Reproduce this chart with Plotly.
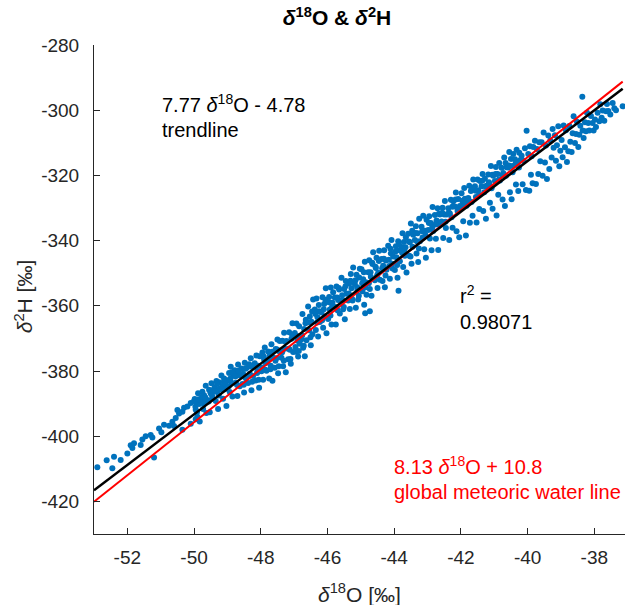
import plotly.graph_objects as go

# ---- data ----
D18O = [
 -52.9,-52.62,-52.4,-52.45,-52.2,-52.0,-51.9,-51.85,-51.8,-51.6,-51.55,-51.3,-51.2,-51.25,-51.05,-50.98,
 -50.9,-50.75,-50.65,-50.55,-50.45,-50.5,-50.35,-50.3,-50.2,-50.1,-50.35,-50.1,-50.0,-49.95,-50.6,-51.45,
 -49.98,-49.95,-49.93,-49.90,-49.88,-49.85,-49.83,
 -49.78,-49.75,-49.73,-49.70,-49.68,-49.65,-49.63,
 -49.58,-49.55,-49.53,-49.50,-49.48,-49.45,-49.43,
 -49.38,-49.35,-49.33,-49.30,-49.28,-49.25,-49.23,
 -49.18,-49.15,-49.13,-49.10,-49.08,-49.05,-49.03,
 -48.98,-48.95,-48.93,-48.90,-48.88,-48.85,-48.83,
 -48.78,-48.75,-48.73,-48.70,-48.68,-48.65,-48.63,
 -48.58,-48.55,-48.53,-48.50,-48.48,-48.45,-48.43,
 -48.38,-48.35,-48.33,-48.30,-48.28,-48.25,-48.23,
 -48.18,-48.15,-48.13,-48.10,-48.08,-48.05,-48.03,
 -47.98,-47.95,-47.93,-47.90,-47.88,-47.85,-47.83,
 -47.78,-47.75,-47.73,-47.70,-47.68,-47.65,-47.63,
 -47.58,-47.55,-47.53,-47.50,-47.48,-47.45,-47.43,
 -47.38,-47.35,-47.33,-47.30,-47.28,-47.25,-47.23,
 -47.18,-47.15,-47.13,-47.10,-47.08,-47.05,-47.03,
 -46.98,-46.95,-46.93,-46.90,-46.88,-46.85,-46.83,
 -46.78,-46.75,-46.73,-46.70,-46.68,-46.65,-46.63,
 -46.58,-46.55,-46.53,-46.50,-46.48,-46.45,-46.43,
 -46.38,-46.35,-46.33,-46.30,-46.28,-46.25,-46.23,
 -46.18,-46.15,-46.13,-46.10,-46.08,-46.05,-46.03,
 -45.98,-45.95,-45.93,-45.90,-45.88,-45.85,-45.83,
 -45.78,-45.75,-45.73,-45.70,-45.68,-45.65,-45.63,
 -45.58,-45.55,-45.53,-45.50,-45.48,-45.45,-45.43,
 -45.38,-45.35,-45.33,-45.30,-45.28,-45.25,-45.23,
 -45.18,-45.15,-45.13,-45.10,-45.08,-45.05,-45.03,
 -44.98,-44.95,-44.93,-44.90,-44.88,-44.85,-44.83,-44.87,-44.73,
 -44.78,-44.75,-44.73,-44.70,-44.68,-44.65,-44.63,
 -44.58,-44.55,-44.53,-44.50,-44.48,-44.45,-44.43,
 -44.38,-44.35,-44.33,-44.30,-44.28,-44.25,-44.23,
 -44.18,-44.15,-44.13,-44.10,-44.08,-44.05,-44.03,
 -43.98,-43.95,-43.93,-43.90,-43.88,-43.85,-43.83,-43.87,
 -43.78,-43.75,-43.73,-43.70,-43.68,-43.65,-43.63,
 -43.58,-43.55,-43.53,-43.50,-43.48,-43.45,-43.43,
 -43.38,-43.35,-43.33,-43.30,-43.28,-43.25,-43.23,
 -43.18,-43.15,-43.13,-43.10,-43.08,-43.05,-43.03,
 -42.98,-42.95,-42.93,-42.90,-42.88,-42.85,-42.83,
 -42.78,-42.75,-42.73,-42.70,-42.68,-42.65,-42.63,
 -42.58,-42.55,-42.53,-42.50,-42.48,-42.45,-42.43,
 -42.38,-42.35,-42.33,-42.30,-42.28,-42.25,-42.23,
 -42.18,-42.15,-42.13,-42.10,-42.08,-42.05,-42.03,
 -41.98,-41.95,-41.93,-41.90,-41.88,-41.85,-41.83,
 -41.78,-41.75,-41.73,-41.70,-41.68,-41.65,-41.63,
 -41.58,-41.55,-41.53,-41.50,-41.48,-41.45,-41.43,
 -41.38,-41.35,-41.33,-41.30,-41.28,-41.25,-41.23,
 -41.18,-41.15,-41.13,-41.10,-41.08,-41.05,-41.03,
 -40.98,-40.95,-40.93,-40.90,-40.88,-40.85,-40.83,
 -40.78,-40.75,-40.73,-40.70,-40.68,-40.65,-40.63,
 -40.58,-40.55,-40.53,-40.50,-40.48,-40.45,-40.43,
 -40.38,-40.35,-40.33,-40.30,-40.28,-40.25,-40.23,
 -40.18,-40.15,-40.12,-40.08,-40.05,-40.03,
 -39.98,-39.95,-39.93,-39.90,-39.88,-39.85,-39.83,
 -39.78,-39.75,-39.72,-39.68,-39.65,-39.62,
 -39.58,-39.55,-39.52,-39.48,-39.45,-39.42,
 -39.38,-39.35,-39.32,-39.28,-39.25,-39.22,
 -39.18,-39.15,-39.12,-39.08,-39.05,-39.02,
 -38.98,-38.95,-38.92,-38.88,-38.85,-38.82,
 -38.78,-38.75,-38.72,-38.68,-38.65,-38.62,
 -38.58,-38.55,-38.52,-38.48,-38.45,-38.42,
 -38.36,-38.35,-38.32,-38.28,-38.25,-38.22,
 -38.18,-38.15,-38.10,-38.05,-38.02,
 -37.98,-37.95,-37.90,-37.85,-37.82,
 -37.78,-37.75,-37.70,-37.65,-37.62,
 -37.58,-37.52,-37.45,-37.40,
 -37.35,-37.15,
]

D2H = [
 -409.5,-407.4,-406.3,-409.8,-407.3,-405.3,-402.8,-403.6,-402.2,-402.7,-401.0,-399.6,-406.5,-400.4,-397.6,-398.8,
 -396.5,-396.8,-395.6,-394.4,-393.0,-392.0,-392.5,-391.3,-390.9,-389.8,-398.0,-396.2,-389.2,-394.8,-396.9,-400.0,
 -388.62,-391.89,-389.74,-394.00,-386.85,-390.11,-395.46,
 -389.07,-386.34,-391.69,-387.45,-389.30,-384.56,-392.91,
 -389.01,-385.78,-392.63,-386.89,-383.74,-388.50,-385.85,
 -384.96,-389.23,-383.08,-386.34,-391.69,-383.45,-385.30,
 -381.40,-384.67,-388.52,-382.28,-385.63,-382.89,-390.74,
 -382.85,-380.62,-386.47,-378.73,-383.58,-387.84,-381.19,
 -379.80,-383.57,-380.92,-387.68,-378.03,-381.29,-384.64,
 -379.24,-384.01,-380.86,-386.62,-377.47,-382.23,-379.08,
 -383.69,-377.96,-380.81,-376.07,-385.92,-378.68,-381.53,
 -377.63,-382.90,-375.25,-380.01,-378.36,-385.12,-375.47,
 -380.08,-374.35,-382.70,-376.46,-372.81,-377.57,-379.92,
 -374.03,-382.30,-375.15,-378.41,-371.76,-383.02,-375.87,
 -378.97,-373.24,-376.09,-370.35,-380.70,-373.96,-370.81,
 -375.92,-370.69,-378.54,-368.30,-373.15,-380.41,-370.76,
 -376.36,-368.13,-373.48,-377.74,-370.09,-365.35,-374.20,
 -368.31,-374.08,-365.43,-370.69,-375.54,-366.30,-371.65,
 -370.26,-362.53,-372.88,-367.14,-375.49,-364.25,-370.60,
 -360.20,-367.47,-363.32,-372.08,-364.93,-368.69,-358.04,
 -361.15,-367.42,-357.77,-363.53,-369.38,-361.64,-364.99,
 -362.09,-357.36,-366.71,-359.47,-363.32,-354.58,-368.43,
 -364.04,-357.31,-361.16,-354.42,-365.77,-359.03,-355.88,
 -357.49,-365.76,-354.11,-361.37,-358.22,-354.98,-362.33,
 -351.43,-358.20,-361.05,-354.81,-364.16,-352.42,-356.27,
 -358.38,-353.15,-361.00,-350.26,-354.61,-358.37,-348.22,
 -353.32,-360.59,-350.44,-355.20,-358.05,-351.31,-348.66,
 -348.77,-355.54,-351.89,-359.65,-346.50,-352.76,-356.61,-362.3,-361.7,
 -349.72,-345.99,-354.84,-351.10,-356.95,-347.21,-343.56,
 -352.16,-348.43,-345.28,-354.54,-349.89,-343.15,-352.00,
 -345.61,-352.38,-347.73,-342.99,-354.34,-346.10,-348.95,
 -341.55,-347.82,-351.67,-343.93,-339.78,-348.54,-344.89,
 -349.00,-341.77,-345.12,-351.38,-340.23,-342.99,-346.34,-355.4,
 -341.95,-337.72,-348.07,-342.83,-344.68,-338.94,-349.79,
 -337.89,-344.66,-340.51,-334.77,-347.12,-341.88,-338.23,
 -339.84,-335.61,-343.96,-337.72,-346.57,-333.33,-340.18,
 -335.78,-339.05,-332.40,-342.66,-337.01,-345.27,-333.62,
 -336.73,-332.50,-339.35,-334.61,-342.96,-329.72,-337.07,
 -332.18,-339.45,-333.80,-330.06,-342.91,-335.17,-332.02,
 -334.12,-329.89,-339.24,-332.00,-327.85,-336.11,-331.96,
 -330.07,-339.84,-331.69,-327.45,-332.80,-336.06,-327.91,
 -329.51,-325.28,-337.13,-330.89,-327.24,-339.00,-329.35,
 -325.46,-329.23,-334.08,-323.84,-327.19,-338.45,-329.30,
 -326.91,-323.18,-334.53,-324.79,-328.14,-332.40,-321.25,
 -323.35,-326.62,-334.47,-321.23,-324.58,-330.34,-321.69,
 -323.30,-319.57,-330.92,-325.18,-321.03,-333.29,-323.14,
 -319.74,-322.51,-328.36,-317.12,-323.97,-330.23,-320.08,
 -321.69,-317.46,-332.31,-319.57,-325.92,-316.18,-321.53,
 -317.64,-327.41,-319.26,-314.52,-329.37,-320.13,-317.48,
 -317.58,-312.85,-325.20,-314.96,-327.31,-319.07,-313.42,
 -315.03,-322.80,-312.15,-316.91,-324.76,-313.02,-315.37,
 -313.97,-322.74,-315.51,-311.70,-324.46,-306.31,
 -313.42,-324.69,-311.04,-319.80,-314.15,-322.41,-311.26,
 -309.37,-322.64,-311.91,-319.60,-309.86,-315.63,
 -309.81,-320.08,-306.85,-316.04,-310.80,-321.07,
 -307.76,-318.03,-309.30,-314.49,-305.75,-311.52,
 -307.70,-315.47,-310.74,-304.93,-317.19,-312.46,
 -309.15,-314.42,-304.69,-311.38,-306.14,-315.91,
 -312.60,-304.87,-309.64,-312.83,-307.09,-301.86,
 -310.04,-307.31,-303.58,-311.27,-307.53,-304.80,
 -295.84,-306.26,-308.53,-303.72,-306.48,-300.75,
 -303.93,-306.20,-301.81,-303.92,-306.19,
 -302.88,-305.15,-300.76,-303.37,-298.14,
 -302.33,-300.10,-303.21,-300.32,-298.09,
 -300.27,-301.31,-297.76,-299.38,
 -300.0,-298.8,
]

# extra samples from the densest core of the cloud
D18O_CORE = [
 -49.96,-49.91,-49.86, -49.76,-49.71,-49.66, -49.56,-49.51,-49.46, -49.36,-49.31,-49.26,
 -49.16,-49.11,-49.06, -48.96,-48.91,-48.86, -48.76,-48.71,-48.66, -48.56,-48.51,-48.46,
 -48.36,-48.31,-48.26, -48.16,-48.11,-48.06, -47.96,-47.91,-47.86, -47.76,-47.71,-47.66,
 -47.56,-47.51,-47.46, -47.36,-47.31,-47.26, -47.16,-47.11,-47.06, -46.96,-46.91,-46.86,
 -46.76,-46.71,-46.66, -46.56,-46.51,-46.46, -46.36,-46.31,-46.26, -46.16,-46.11,-46.06,
 -45.96,-45.91,-45.86, -45.76,-45.71,-45.66, -45.56,-45.51,-45.46, -45.36,-45.31,-45.26,
 -45.16,-45.11,-45.06, -44.96,-44.91,-44.86, -44.76,-44.71,-44.66, -44.56,-44.51,-44.46,
 -44.36,-44.31,-44.26, -44.16,-44.11,-44.06, -43.96,-43.91,-43.86, -43.76,-43.71,-43.66,
 -43.56,-43.51,-43.46, -43.36,-43.31,-43.26,
 -43.16,-43.06, -42.96,-42.86, -42.76,-42.66, -42.56,-42.46, -42.36,-42.26, -42.16,-42.06,
 -41.96,-41.86, -41.76,-41.66, -41.56,-41.46, -41.36,-41.26, -41.16,-41.06, -40.96,-40.86,
 -40.76,-40.66, -40.56,-40.46, -40.36,-40.26,
]
D2H_CORE = [
 -390.97,-392.58,-388.69, -387.92,-390.03,-388.14, -389.36,-386.47,-387.58, -386.31,-383.92,-387.53,
 -385.75,-383.36,-383.97, -384.70,-382.31,-380.42, -381.65,-384.26,-379.87, -381.59,-384.20,-379.31,
 -381.54,-378.65,-383.26, -378.48,-380.59,-382.70, -378.93,-375.54,-379.65, -376.38,-379.49,-374.10,
 -376.82,-373.43,-378.54, -374.27,-376.88,-370.99, -373.21,-376.32,-368.93, -372.66,-369.27,-373.88,
 -369.11,-372.22,-365.33, -365.05,-369.66,-361.77, -362.50,-365.11,-359.72, -364.44,-361.05,-358.16,
 -358.89,-362.99,-360.11, -360.34,-357.45,-354.56, -356.78,-360.39,-354.00, -356.23,-352.34,-357.95,
 -352.17,-354.28,-356.89, -353.12,-349.73,-354.34, -353.07,-349.68,-346.79, -348.01,-350.62,-346.23,
 -348.46,-345.57,-350.68, -345.90,-342.51,-347.12, -343.35,-347.46,-341.07, -343.80,-340.41,-342.02,
 -340.24,-344.85,-336.96, -337.69,-340.30,-342.41,
 -337.13,-338.35, -334.58,-335.80, -335.03,-331.75, -331.47,-334.19, -331.42,-329.64, -327.36,-330.08,
 -327.81,-328.03, -327.76,-323.98, -324.70,-325.92, -321.65,-323.37, -322.09,-319.81, -319.54,-321.26,
 -319.99,-316.21, -316.93,-317.15, -316.38,-317.60,
]

LINE_X = [-53.0, -37.15]
TREND_Y = [-416.59, -293.44]   # 7.77 d18O - 4.78
GMWL_Y = [-420.09, -291.23]    # 8.13 d18O + 10.8

X_TICKS = [-52, -50, -48, -46, -44, -42, -40, -38]
Y_TICKS = [-420, -400, -380, -360, -340, -320, -300, -280]

FONT = "Liberation Sans, Arial, sans-serif"
AX = "#262626"

fig = go.Figure()
fig.add_trace(go.Scatter(x=D18O + D18O_CORE, y=D2H + D2H_CORE, mode="markers",
                         marker=dict(color="#0072BD", size=6, line=dict(width=0)),
                         showlegend=False, hoverinfo="skip"))
fig.add_trace(go.Scatter(x=LINE_X, y=GMWL_Y, mode="lines",
                         line=dict(color="#FF0000", width=2), showlegend=False))
fig.add_trace(go.Scatter(x=LINE_X, y=TREND_Y, mode="lines",
                         line=dict(color="#000000", width=2.5), showlegend=False))

axis_common = dict(showgrid=False, zeroline=False, showline=True, linecolor=AX, linewidth=1,
                   ticks="inside", ticklen=6, tickcolor=AX, tickwidth=1,
                   tickfont=dict(family=FONT, size=19, color=AX), mirror=False)

fig.update_xaxes(range=[-53, -37.08], tickvals=X_TICKS, ticktext=[str(v) for v in X_TICKS],
                 ticklabelstandoff=6, **axis_common)
fig.update_yaxes(range=[-430, -280], tickvals=Y_TICKS, ticktext=[str(v) for v in Y_TICKS],
                 ticklabelstandoff=10, **axis_common)

ann_font = dict(family=FONT, size=20, color="#000000")
red_font = dict(family=FONT, size=20, color="#FF0000")
label_font = dict(family=FONT, size=21, color=AX)
annotations = [
    dict(x=-51.02, y=-297.9, xref="x", yref="y", xanchor="left", yanchor="middle", showarrow=False,
         text="7.77 <i>δ</i><sup>18</sup>O - 4.78", font=ann_font),
    dict(x=-51.02, y=-306.0, xref="x", yref="y", xanchor="left", yanchor="middle", showarrow=False,
         text="trendline", font=ann_font),
    dict(x=-42.09, y=-356.6, xref="x", yref="y", xanchor="left", yanchor="middle", showarrow=False,
         text="r<sup>2</sup> =", font=ann_font),
    dict(x=-42.09, y=-365.1, xref="x", yref="y", xanchor="left", yanchor="middle", showarrow=False,
         text="0.98071", font=ann_font),
    dict(x=-44.07, y=-409.1, xref="x", yref="y", xanchor="left", yanchor="middle", showarrow=False,
         text="8.13 <i>δ</i><sup>18</sup>O + 10.8", font=red_font),
    dict(x=-44.07, y=-417.1, xref="x", yref="y", xanchor="left", yanchor="middle", showarrow=False,
         text="global meteoric water line", font=red_font),
    dict(x=0.5, y=-0.12, xref="paper", yref="paper", xanchor="center", yanchor="middle",
         showarrow=False, text="<i>δ</i><sup>18</sup>O [‰]", font=label_font),
    dict(x=-0.133, y=0.487, xref="paper", yref="paper", xanchor="center", yanchor="middle",
         showarrow=False, textangle=-90, text="<i>δ</i><sup>2</sup>H [‰]", font=label_font),
]

fig.update_layout(
    width=625, height=605,
    margin=dict(l=94, r=0, t=45, b=70.5),
    paper_bgcolor="white", plot_bgcolor="white",
    title=dict(text="<b><i>δ</i><sup>18</sup>O & <i>δ</i><sup>2</sup>H</b>",
               x=337/625, xref="container", xanchor="center",
               y=1 - 18/605, yref="container", yanchor="middle",
               font=dict(family=FONT, size=21, color="#000000")),
    annotations=annotations,
)

fig.write_html("out.html")
